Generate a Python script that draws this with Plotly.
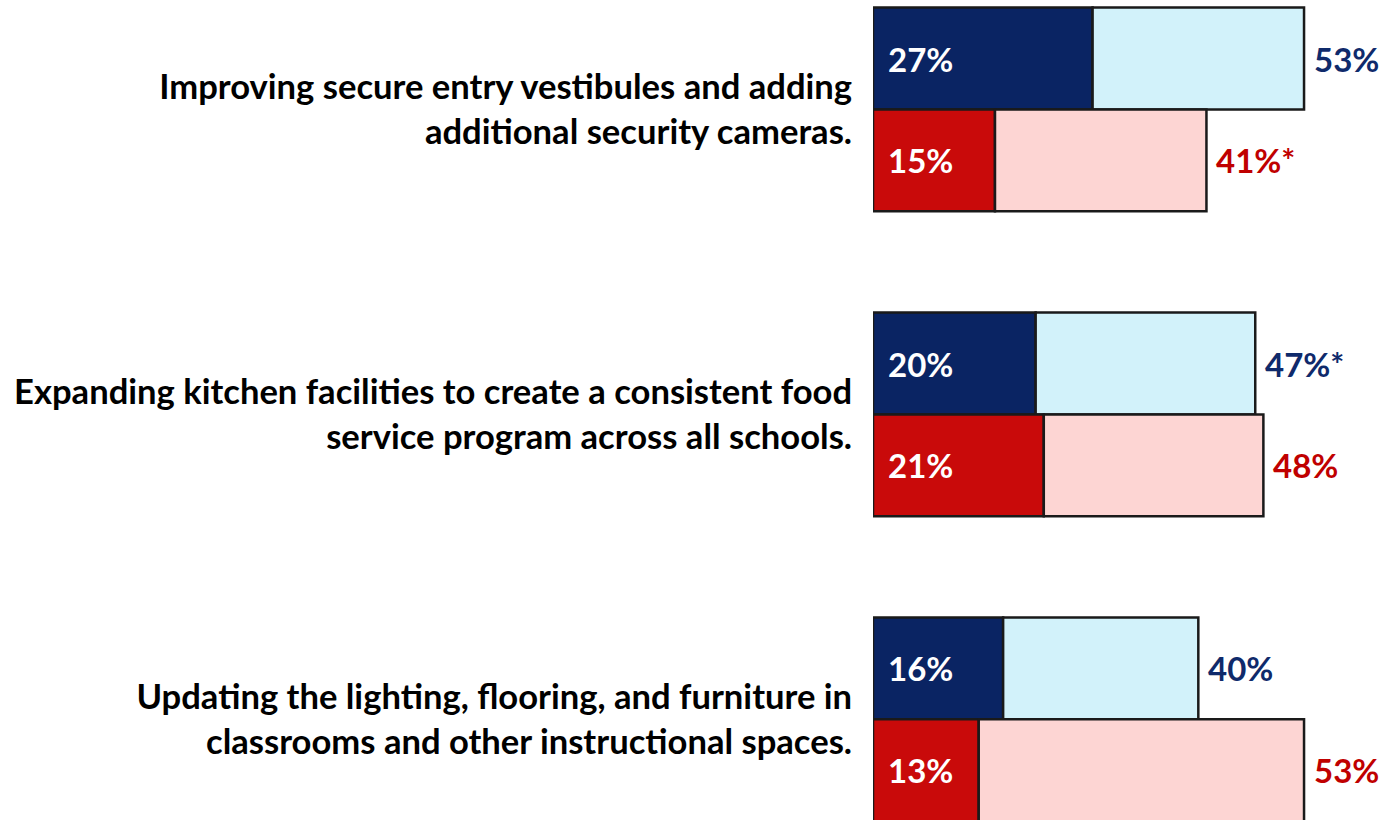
import plotly.graph_objects as go

categories = [
    "Improving secure entry vestibules and adding<br>additional security cameras.",
    "Expanding kitchen facilities to create a consistent food<br>service program across all schools.",
    "Updating the lighting, flooring, and furniture in<br>classrooms and other instructional spaces.",
]
blue_strong = [27, 20, 16]
blue_total = [53, 47, 40]
blue_total_labels = ["53%", "47%*", "40%"]
red_strong = [15, 21, 13]
red_total = [41, 48, 53]
red_total_labels = ["41%*", "48%", "53%"]

ypos = list(range(len(categories)))

DARK_BLUE = "#0A2463"
LIGHT_BLUE = "#D2F2FA"
DARK_RED = "#C90A0A"
LIGHT_RED = "#FDD5D3"
BLUE_TXT = "#0F2A6B"
RED_TXT = "#C00000"
FONT = "Lato"
line = dict(color="#1A1A1A", width=2.5)

fig = go.Figure()
fig.add_trace(go.Bar(y=ypos, x=blue_strong, orientation="h", offsetgroup="blue",
                     marker=dict(color=DARK_BLUE, line=line), hoverinfo="skip"))
fig.add_trace(go.Bar(y=ypos, x=[t - s for t, s in zip(blue_total, blue_strong)], base=blue_strong,
                     orientation="h", offsetgroup="blue",
                     marker=dict(color=LIGHT_BLUE, line=line), hoverinfo="skip"))
fig.add_trace(go.Bar(y=ypos, x=red_strong, orientation="h", offsetgroup="red",
                     marker=dict(color=DARK_RED, line=line), hoverinfo="skip"))
fig.add_trace(go.Bar(y=ypos, x=[t - s for t, s in zip(red_total, red_strong)], base=red_strong,
                     orientation="h", offsetgroup="red",
                     marker=dict(color=LIGHT_RED, line=line), hoverinfo="skip"))

half = 0.668 / 4
annotations = []
for i in ypos:
    for strong, total, tlabel, col, dy in [
        (blue_strong[i], blue_total[i], blue_total_labels[i], BLUE_TXT, -half),
        (red_strong[i], red_total[i], red_total_labels[i], RED_TXT, half),
    ]:
        annotations.append(dict(x=0, y=i + dy, text=f"{strong}%", showarrow=False,
                                xanchor="left", xshift=13,
                                font=dict(family=FONT, size=33, color="white", weight="bold")))
        annotations.append(dict(x=total, y=i + dy, text=tlabel, showarrow=False,
                                xanchor="left", xshift=8,
                                font=dict(family=FONT, size=33, color=col, weight="bold")))

fig.update_layout(
    width=1387, height=820,
    margin=dict(l=873, r=0, t=0, b=0),
    barmode="group", bargap=0.332, bargroupgap=0,
    plot_bgcolor="white", paper_bgcolor="white",
    showlegend=False,
    annotations=annotations,
    xaxis=dict(range=[0, 63.2], visible=False, fixedrange=True),
    yaxis=dict(range=[2.330, -0.359], tickmode="array", tickvals=ypos, ticktext=categories,
               showgrid=False, zeroline=False, showline=False, fixedrange=True,
               ticks="outside", ticklen=13, tickcolor="rgba(0,0,0,0)",
               tickfont=dict(family=FONT, size=34.6, color="black", weight="bold")),
)
fig.write_html("out.html", config={"displayModeBar": False},
               post_script="document.body.style.margin='0';document.body.style.overflow='hidden';")
